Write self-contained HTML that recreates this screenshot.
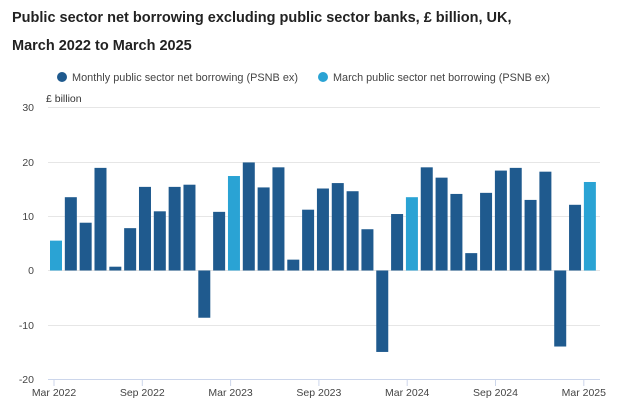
<!DOCTYPE html>
<html><head><meta charset="utf-8"><style>
body{margin:0;background:#fff;width:634px;height:414px;overflow:hidden;font-family:"Liberation Sans",sans-serif}
</style></head><body>
<svg width="634" height="414" xmlns="http://www.w3.org/2000/svg" font-family="Liberation Sans, sans-serif">
<text x="12" y="22" font-size="14.5" font-weight="bold" fill="#222">Public sector net borrowing excluding public sector banks, £ billion, UK,</text>
<text x="12" y="50" font-size="14.5" font-weight="bold" fill="#222">March 2022 to March 2025</text>
<circle cx="62" cy="77" r="5" fill="#1f5a8e"/>
<text x="72" y="81" font-size="11" fill="#444" textLength="226" lengthAdjust="spacingAndGlyphs">Monthly public sector net borrowing (PSNB ex)</text>
<circle cx="323" cy="77" r="5" fill="#2aa3d4"/>
<text x="333" y="81" font-size="11" fill="#444" textLength="217" lengthAdjust="spacingAndGlyphs">March public sector net borrowing (PSNB ex)</text>
<text x="46" y="102" font-size="10.5" fill="#333">£ billion</text>
<g stroke="#e6e6e6" stroke-width="1">
<line x1="48" x2="600" y1="107.5" y2="107.5"/>
<line x1="48" x2="600" y1="162.5" y2="162.5"/>
<line x1="48" x2="600" y1="216.5" y2="216.5"/>
<line x1="48" x2="600" y1="270.5" y2="270.5"/>
<line x1="48" x2="600" y1="325.5" y2="325.5"/>
</g>
<line x1="48" x2="600" y1="379.5" y2="379.5" stroke="#ccd6eb"/>
<g font-size="10.5" fill="#444" text-anchor="end">
<text x="34" y="111">30</text><text x="34" y="166">20</text><text x="34" y="220">10</text>
<text x="34" y="274">0</text><text x="34" y="329">-10</text><text x="34" y="383">-20</text>
</g>
<g id="bars"></g>
<g id="ticks" font-size="10.5" fill="#444" text-anchor="middle"></g>
<script>
var v=[5.5,13.5,8.8,18.9,0.7,7.8,15.4,10.9,15.4,15.8,-8.7,10.8,17.4,19.9,15.3,19.0,2.0,11.2,15.1,16.1,14.6,7.6,-15.0,10.4,13.5,19.0,17.1,14.1,3.2,14.3,18.4,18.9,13.0,18.2,-14.0,12.1,16.3];
var ns="http://www.w3.org/2000/svg",g=document.getElementById('bars');
var z=270.5,s=5.43;
v.forEach(function(d,i){var r=document.createElementNS(ns,'rect');var cx=56+i*14.83;
r.setAttribute('x',cx-6);r.setAttribute('width',12);
var y=d>=0?z-d*s:z;r.setAttribute('y',y);r.setAttribute('height',Math.abs(d)*s);
r.setAttribute('fill',i%12==0?'#2aa3d4':'#1f5a8e');g.appendChild(r);});
var t=document.getElementById('ticks'),L=['Mar 2022','Sep 2022','Mar 2023','Sep 2023','Mar 2024','Sep 2024','Mar 2025'];
L.forEach(function(l,i){var x=54+i*88.3;var ln=document.createElementNS(ns,'line');
ln.setAttribute('x1',x);ln.setAttribute('x2',x);ln.setAttribute('y1',380);ln.setAttribute('y2',386);ln.setAttribute('stroke','#ccd6eb');t.appendChild(ln);
var tx=document.createElementNS(ns,'text');tx.setAttribute('x',x);tx.setAttribute('y',396);tx.textContent=l;t.appendChild(tx);});
</script>
</svg>
</body></html>
